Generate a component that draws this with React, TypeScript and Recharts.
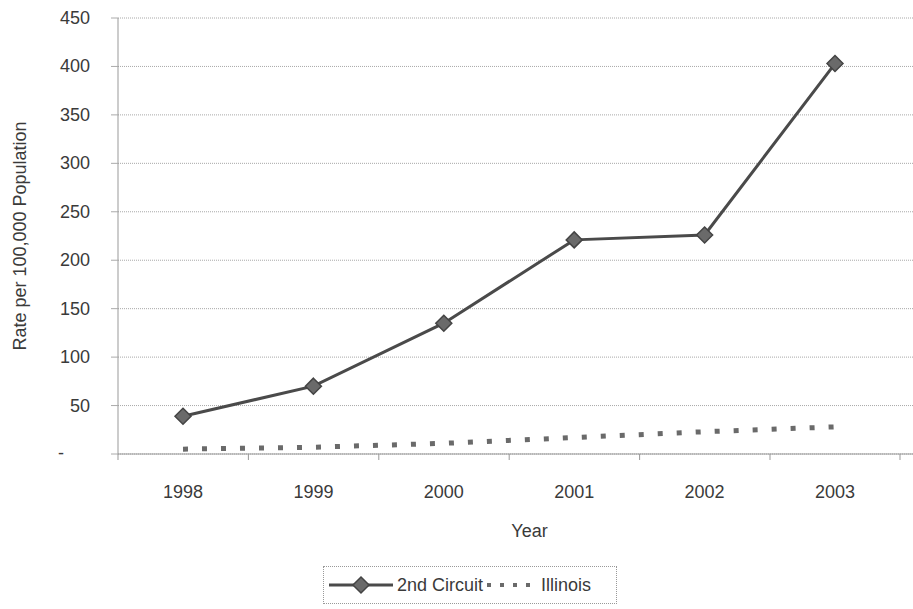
import React from "react";
import {
  LineChart,
  Line,
  XAxis,
  YAxis,
  CartesianGrid,
  Label,
} from "recharts";

const years = ["1998", "1999", "2000", "2001", "2002", "2003"];
const secondCircuit = [39, 70, 135, 221, 226, 403];
const illinois = [5, 7, 11, 17, 23, 28];
const yTicks = [0, 50, 100, 150, 200, 250, 300, 350, 400, 450];

const data = years.map((year, i) => ({
  year,
  secondCircuit: secondCircuit[i],
  illinois: illinois[i],
}));

const FONT = "'Liberation Sans', Arial, sans-serif";
const TEXT = "#3a3a3a";
const FS = 18;

const Diamond = (props: any) => {
  const { cx, cy } = props;
  if (cx == null || cy == null) return null;
  const s = 8;
  return (
    <polygon
      points={`${cx},${cy - s} ${cx + s},${cy} ${cx},${cy + s} ${cx - s},${cy}`}
      fill="#6a6a6a"
      stroke="#444"
      strokeWidth={1.5}
    />
  );
};

const YTick = (props: any) => {
  const { x, y, payload } = props;
  if (payload.value === 0) {
    return (
      <text x={x - 26} y={y} dy={5} fill={TEXT} fontSize={FS} fontFamily={FONT} textAnchor="end">
        -
      </text>
    );
  }
  return (
    <text x={x} y={y} dy={6} fill={TEXT} fontSize={FS} fontFamily={FONT} textAnchor="end">
      {payload.value}
    </text>
  );
};

const XTick = (props: any) => {
  const { x, y, payload, index } = props;
  const half = 65;
  return (
    <g>
      <line x1={x - half} y1={y - 31} x2={x - half} y2={y - 25} stroke="#999" />
      {index === years.length - 1 && (
        <line x1={x + half} y1={y - 31} x2={x + half} y2={y - 25} stroke="#999" />
      )}
      <text x={x} y={y} dy={13} fill={TEXT} fontSize={FS} fontFamily={FONT} textAnchor="middle">
        {payload.value}
      </text>
    </g>
  );
};

export default function App() {
  return (
    <div
      style={{
        position: "absolute",
        left: 0,
        top: 0,
        width: 913,
        height: 609,
        background: "#fff",
        fontFamily: FONT,
      }}
    >
      <LineChart
        width={913}
        height={609}
        data={data}
        margin={{ top: 18, right: 0, left: 0, bottom: 95 }}
      >
        <CartesianGrid
          vertical={false}
          stroke="#a8a8a8"
          strokeDasharray="1 1"
        />
        <XAxis
          dataKey="year"
          height={60}
          padding={{ left: 65, right: 78 }}
          tickLine={false}
          tickSize={6}
          tickMargin={25}
          tick={<XTick />}
          axisLine={{ stroke: "#999" }}
        >
          <Label
            content={(p: any) => {
              const vb = p.viewBox || { x: 118, y: 454, width: 795, height: 60 };
              const cx = vb.x + vb.width / 2 + 14;
              return (
                <text
                  x={cx}
                  y={vb.y + vb.height + 17}
                  textAnchor="middle"
                  dominantBaseline="central"
                  fill={TEXT}
                  fontSize={FS}
                  fontFamily={FONT}
                >
                  Year
                </text>
              );
            }}
          />
        </XAxis>
        <YAxis
          width={118}
          domain={[0, 450]}
          ticks={yTicks}
          interval={0}
          tickSize={7}
          tickMargin={21}
          tick={<YTick />}
          tickLine={{ stroke: "#aaa" }}
          axisLine={{ stroke: "#999" }}
        >
          <Label
            content={() => (
              <text
                x={20}
                y={236}
                transform="rotate(-90 20 236)"
                textAnchor="middle"
                dominantBaseline="central"
                fill={TEXT}
                fontSize={FS}
                fontFamily={FONT}
              >
                Rate per 100,000 Population
              </text>
            )}
          />
        </YAxis>
        <Line
          type="linear"
          dataKey="illinois"
          stroke="#6a6a6a"
          strokeWidth={5}
          strokeDasharray="5 14"
          dot={false}
          activeDot={false}
          isAnimationActive={false}
        />
        <Line
          type="linear"
          dataKey="secondCircuit"
          stroke="#4a4a4a"
          strokeWidth={3}
          dot={<Diamond />}
          activeDot={false}
          isAnimationActive={false}
        />
      </LineChart>
      <div
        style={{
          position: "absolute",
          left: 323,
          top: 566,
          width: 294,
          height: 38,
          border: "1px dotted #999",
          boxSizing: "border-box",
          display: "flex",
          alignItems: "center",
          fontSize: FS,
          color: TEXT,
          fontFamily: FONT,
          whiteSpace: "nowrap",
        }}
      >
        <svg width={68} height={20} style={{ marginLeft: 5, flexShrink: 0 }}>
          <line x1={0} y1={10} x2={64} y2={10} stroke="#4a4a4a" strokeWidth={3} />
          <polygon points="32,2 40,10 32,18 24,10" fill="#6a6a6a" stroke="#444" strokeWidth={1.5} />
        </svg>
        <span>2nd Circuit</span>
        <svg width={56} height={20} style={{ marginLeft: 2, flexShrink: 0 }}>
          <line x1={2} y1={10} x2={54} y2={10} stroke="#6a6a6a" strokeWidth={4} strokeDasharray="4 9" />
        </svg>
        <span>Illinois</span>
      </div>
    </div>
  );
}
